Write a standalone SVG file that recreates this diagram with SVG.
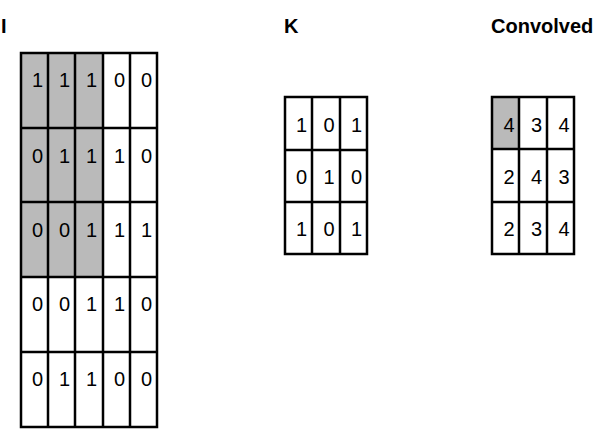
<svg xmlns="http://www.w3.org/2000/svg" width="616" height="438" viewBox="0 0 616 438">
<style>
.lbl{font-family:"Liberation Sans",Arial,sans-serif;font-weight:bold;font-size:20px;fill:#000}
.d{font-family:"Liberation Sans",Arial,sans-serif;font-size:20px;fill:#000;text-anchor:end}
.g{fill:none;stroke:#000;stroke-width:2.5}
.sh{fill:#bababa}
</style>
<rect width="616" height="438" fill="#fff"/>
<g id="label-I"><text class="lbl" x="1" y="33">I</text></g>
<g id="label-K"><text class="lbl" x="284" y="33">K</text></g>
<g id="label-Convolved"><text class="lbl" x="491" y="33">Convolved</text></g>

<g id="matrix-I">
<rect class="sh" x="21" y="53" width="82" height="224"/>
<path class="g" d="M21,53H157V427H21Z M48,53V427 M75,53V427 M103,53V427 M130,53V427 M21,128H157 M21,202H157 M21,277H157 M21,352H157"/>
<g>
<text class="d" x="43" y="87">1</text><text class="d" x="70" y="87">1</text><text class="d" x="97" y="87">1</text><text class="d" x="125" y="87">0</text><text class="d" x="152" y="87">0</text>
<text class="d" x="43" y="163">0</text><text class="d" x="70" y="163">1</text><text class="d" x="97" y="163">1</text><text class="d" x="125" y="163">1</text><text class="d" x="152" y="163">0</text>
<text class="d" x="43" y="237">0</text><text class="d" x="70" y="237">0</text><text class="d" x="97" y="237">1</text><text class="d" x="125" y="237">1</text><text class="d" x="152" y="237">1</text>
<text class="d" x="43" y="311">0</text><text class="d" x="70" y="311">0</text><text class="d" x="97" y="311">1</text><text class="d" x="125" y="311">1</text><text class="d" x="152" y="311">0</text>
<text class="d" x="43" y="386">0</text><text class="d" x="70" y="386">1</text><text class="d" x="97" y="386">1</text><text class="d" x="125" y="386">0</text><text class="d" x="152" y="386">0</text>
</g>
</g>

<g id="matrix-K">
<path class="g" d="M285,97H367V254H285Z M312,97V254 M340,97V254 M285,150H367 M285,202H367"/>
<text class="d" x="307" y="132">1</text><text class="d" x="334.5" y="132">0</text><text class="d" x="362" y="132">1</text>
<text class="d" x="307" y="184">0</text><text class="d" x="334.5" y="184">1</text><text class="d" x="362" y="184">0</text>
<text class="d" x="307" y="236">1</text><text class="d" x="334.5" y="236">0</text><text class="d" x="362" y="236">1</text>
</g>

<g id="matrix-Convolved">
<rect class="sh" x="492" y="97" width="27" height="52"/>
<path class="g" d="M492,97H574V254H492Z M519,97V254 M547,97V254 M492,149H574 M492,202H574"/>
<text class="d" x="514.5" y="132">4</text><text class="d" x="542" y="132">3</text><text class="d" x="569.5" y="132">4</text>
<text class="d" x="514.5" y="184">2</text><text class="d" x="542" y="184">4</text><text class="d" x="569.5" y="184">3</text>
<text class="d" x="514.5" y="236">2</text><text class="d" x="542" y="236">3</text><text class="d" x="569.5" y="236">4</text>
</g>
<g id="connectors"></g>
</svg>
